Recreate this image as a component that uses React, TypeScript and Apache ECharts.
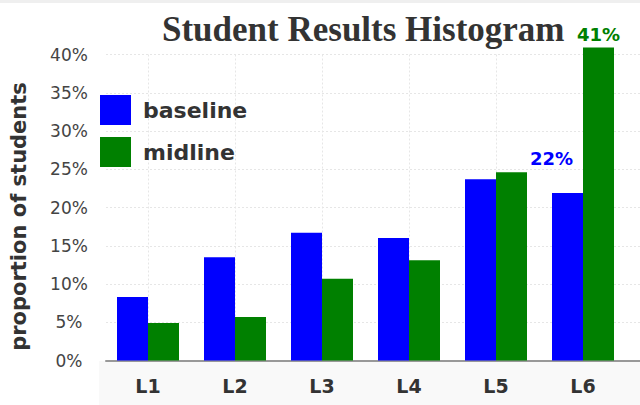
import React, { useEffect, useRef } from "react";
import * as echarts from "echarts";

const categories = ["L1", "L2", "L3", "L4", "L5", "L6"];
const baselineValues = [8.3, 13.5, 16.7, 16.0, 23.7, 21.9];
const midlineValues = [4.9, 5.7, 10.7, 13.1, 24.6, 40.9];
const labelledIndex = 5;

const BLUE = "#0000ff";
const GREEN = "#008000";
const SANS = "'DejaVu Sans', 'Noto Sans', sans-serif";
const GRID_LINE = { color: "#e6e6e6", type: [2, 2], width: 1 };

function buildData(values: number[], labelColor: string, offset: number[]) {
  return values.map((v, i) => {
    if (i !== labelledIndex) return v;
    return {
      value: v,
      label: {
        show: true,
        position: "top",
        distance: 4,
        offset,
        color: labelColor,
        fontFamily: SANS,
        fontWeight: "bold",
        fontSize: 18,
        formatter: (p: any) => Math.round(p.value) + "%",
      },
    };
  });
}

export default function App() {
  const ref = useRef<HTMLDivElement>(null);
  useEffect(() => {
    if (!ref.current) return;
    const chart = echarts.init(ref.current, null, { renderer: "svg" });
    chart.setOption({
      animation: false,
      backgroundColor: "#ffffff",
      graphic: [
        { type: "rect", left: 0, top: 0, shape: { width: 640, height: 3 }, style: { fill: "#efefef" }, z: -1 },
        { type: "rect", left: 99, top: 361, shape: { width: 541, height: 44 }, style: { fill: "#f9f9f9" }, z: -1 },
      ],
      title: {
        text: "Student Results Histogram",
        left: 162,
        top: 12,
        padding: 0,
        textStyle: {
          fontFamily: "'Liberation Serif', serif",
          fontWeight: "bold",
          fontSize: 35,
          color: "#333333",
        },
      },
      legend: {
        data: ["baseline", "midline"],
        orient: "vertical",
        left: 100,
        top: 95,
        padding: 0,
        itemWidth: 31,
        itemHeight: 30,
        itemGap: 12,
        icon: "rect",
        textStyle: {
          fontFamily: SANS,
          fontWeight: "bold",
          fontSize: 22,
          color: "#333333",
          padding: [0, 0, 0, 7],
        },
      },
      grid: [
        { left: 99, right: 0, top: 54.5, bottom: 44.5, containLabel: false },
        { left: 104.5, right: 13.5, top: 54.5, bottom: 44.5, containLabel: false },
      ],
      xAxis: [
        {
          gridIndex: 0,
          type: "value",
          min: 0,
          max: 1,
          axisLine: { show: true, lineStyle: { color: "#999999", width: 2 } },
          axisTick: { show: false },
          axisLabel: { show: false },
          splitLine: { show: false },
        },
        {
          gridIndex: 1,
          type: "category",
          data: categories,
          position: "bottom",
          axisLine: { show: false },
          axisTick: { show: false },
          splitLine: { show: false },
          axisLabel: {
            margin: 16,
            fontFamily: SANS,
            fontWeight: "bold",
            fontSize: 19,
            color: "#333333",
          },
        },
        {
          gridIndex: 1,
          type: "value",
          min: 0.5,
          max: 6.5,
          position: "top",
          axisLine: { show: false },
          axisTick: { show: false },
          axisLabel: { show: false },
          splitLine: { show: true, showMinLine: false, showMaxLine: false, lineStyle: GRID_LINE },
        },
      ],
      yAxis: [
        {
          gridIndex: 0,
          type: "value",
          min: 0,
          max: 40,
          interval: 5,
          axisLine: { show: false },
          axisTick: { show: false },
          axisLabel: {
            align: "center",
            margin: 37,
            fontFamily: SANS,
            fontSize: 17,
            color: "#444444",
            formatter: "{value}%",
          },
          splitLine: { show: true, lineStyle: GRID_LINE },
          name: "proportion of students",
          nameLocation: "middle",
          nameGap: 77,
          nameTextStyle: {
            fontFamily: SANS,
            fontWeight: "bold",
            fontSize: 21,
            color: "#333333",
            padding: [0, 18, 0, 0],
          },
        },
        {
          gridIndex: 1,
          type: "value",
          min: 0,
          max: 40,
          show: false,
        },
      ],
      series: [
        {
          name: "baseline",
          type: "bar",
          xAxisIndex: 1,
          yAxisIndex: 1,
          barWidth: 31,
          barGap: "0%",
          clip: false,
          itemStyle: { color: BLUE },
          data: buildData(baselineValues, BLUE, [-16, -21]),
        },
        {
          name: "midline",
          type: "bar",
          xAxisIndex: 1,
          yAxisIndex: 1,
          barWidth: 31,
          barGap: "0%",
          clip: false,
          itemStyle: { color: GREEN },
          data: buildData(midlineValues, GREEN, [0, 0]),
        },
      ],
    });
    return () => chart.dispose();
  }, []);
  return (
    <div
      ref={ref}
      style={{ position: "fixed", left: 0, top: 0, width: 640, height: 405 }}
    />
  );
}
